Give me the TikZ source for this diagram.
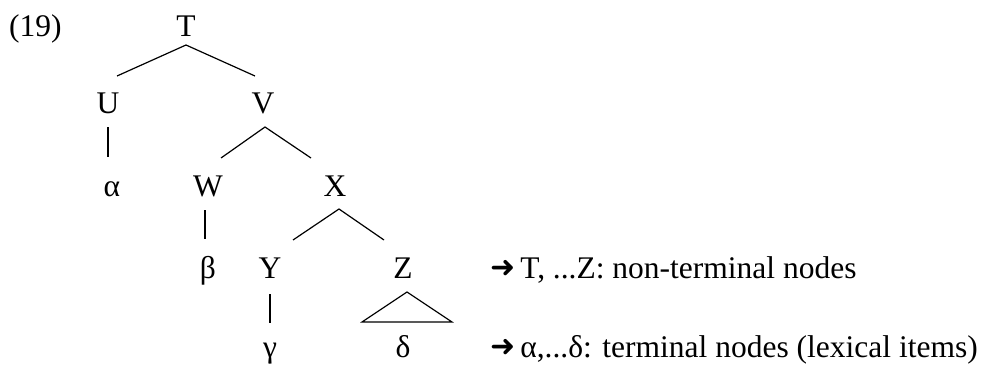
\documentclass[tikz,border=0pt]{standalone}
\usepackage{fontspec}
\setmainfont{Liberation Serif}
\newfontfamily\arrowfont{DejaVu Sans}
\usetikzlibrary{positioning}
\newcommand{\notearrow}{\raisebox{1pt}{\arrowfont\fontsize{30}{32}\selectfont ➜}\hspace{5pt}}

\begin{document}
\begin{tikzpicture}[
    x=1pt, y=1pt,
    lbl/.style={inner sep=0pt, anchor=base, font=\fontsize{31.5}{36}\selectfont},
    note/.style={lbl, anchor=base west},
    br/.style={line width=1.2pt}
]
\useasboundingbox (0,0) rectangle (990,-367);
\node[note] (ex) at (9,-36) {(19)};

% non-terminal nodes
\node[lbl] (T) at (186,-36)  {T};
\node[lbl] (U) at (108,-113) {U};
\node[lbl] (V) at (263,-113) {V};
\node[lbl] (W) at (208,-196) {W};
\node[lbl] (X) at (335,-196) {X};
\node[lbl] (Y) at (270,-278) {Y};
\node[lbl] (Z) at (403,-278) {Z};

% terminal nodes
\node[lbl] (a) at (112,-196) {α};
\node[lbl] (b) at (208,-278) {β};
\node[lbl] (g) at (270,-357) {γ};
\node[lbl] (d) at (403,-357) {δ};

% branches
\draw[br] ([xshift=9pt,yshift=37pt]U.base) -- ([yshift=-9pt]T.base) -- ([xshift=-8pt,yshift=37pt]V.base);
\draw[br] ([xshift=13pt,yshift=38pt]W.base) -- ([xshift=2pt,yshift=-14pt]V.base) -- ([xshift=-24pt,yshift=38pt]X.base);
\draw[br] ([xshift=23pt,yshift=38pt]Y.base) -- ([xshift=4pt,yshift=-13pt]X.base) -- ([xshift=-19pt,yshift=38pt]Z.base);
\draw[br] ([yshift=-14pt]U.base) -- ([xshift=-4pt,yshift=39pt]a.base);
\draw[br] ([xshift=-3pt,yshift=-14pt]W.base) -- ([xshift=-3pt,yshift=39pt]b.base);
\draw[br] ([yshift=-16pt]Y.base) -- ([yshift=34pt]g.base);
\draw[br] ([xshift=4pt,yshift=-14pt]Z.base) -- ([xshift=49pt,yshift=35pt]d.base) -- ([xshift=-41pt,yshift=35pt]d.base) -- cycle;

% notes
\node[note] (n1) at (490,-278) {\notearrow T, ...Z: non-terminal nodes};
\node[note] (n2) at (490,-357) {\notearrow α,...δ: terminal nodes (lexical items)};
\end{tikzpicture}
\end{document}
